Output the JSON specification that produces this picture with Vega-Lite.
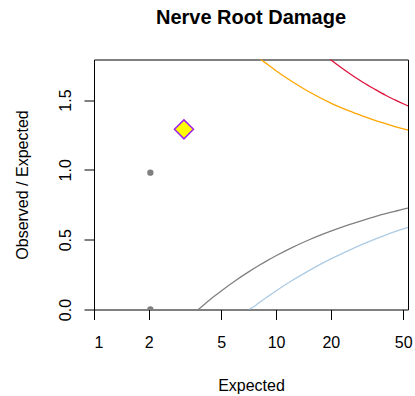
{
  "$schema": "https://vega.github.io/schema/vega-lite/v6.json",
  "width": 314,
  "height": 250,
  "autosize": {"type": "none"},
  "padding": {"left": 94, "top": 59.5, "right": 7, "bottom": 86.5},
  "title": {"text": "Nerve Root Damage", "fontSize": 20, "fontWeight": "bold", "font": "Liberation Sans", "color": "black", "anchor": "middle", "baseline": "alphabetic", "offset": 15.5},
  "config": {
    "view": {"stroke": "black", "strokeWidth": 1},
    "font": "Liberation Sans",
    "axis": {"grid": false, "domain": false, "tickColor": "black", "tickSize": 10, "tickWidth": 1, "labelFont": "Liberation Sans", "labelFontSize": 16, "labelColor": "black", "titleFont": "Liberation Sans", "titleFontSize": 16, "titleFontWeight": "normal", "titleColor": "black"}
  },
  "datasets": {
    "limits": [
      {"E": 7.8, "ratio": 1.82, "limit": "upper95"},
      {"E": 8, "ratio": 1.806, "limit": "upper95"},
      {"E": 9, "ratio": 1.754, "limit": "upper95"},
      {"E": 10, "ratio": 1.71, "limit": "upper95"},
      {"E": 12, "ratio": 1.64, "limit": "upper95"},
      {"E": 15, "ratio": 1.563, "limit": "upper95"},
      {"E": 20, "ratio": 1.478, "limit": "upper95"},
      {"E": 25, "ratio": 1.424, "limit": "upper95"},
      {"E": 30, "ratio": 1.385, "limit": "upper95"},
      {"E": 35, "ratio": 1.354, "limit": "upper95"},
      {"E": 40, "ratio": 1.33, "limit": "upper95"},
      {"E": 45, "ratio": 1.31, "limit": "upper95"},
      {"E": 50, "ratio": 1.293, "limit": "upper95"},
      {"E": 53.5, "ratio": 1.284, "limit": "upper95"},
      {"E": 18.5, "ratio": 1.83, "limit": "upper998"},
      {"E": 20, "ratio": 1.789, "limit": "upper998"},
      {"E": 22, "ratio": 1.747, "limit": "upper998"},
      {"E": 25, "ratio": 1.695, "limit": "upper998"},
      {"E": 30, "ratio": 1.627, "limit": "upper998"},
      {"E": 35, "ratio": 1.576, "limit": "upper998"},
      {"E": 40, "ratio": 1.534, "limit": "upper998"},
      {"E": 45, "ratio": 1.501, "limit": "upper998"},
      {"E": 50, "ratio": 1.473, "limit": "upper998"},
      {"E": 53.5, "ratio": 1.456, "limit": "upper998"},
      {"E": 3.74, "ratio": 0, "limit": "lower95"},
      {"E": 4, "ratio": 0.032, "limit": "lower95"},
      {"E": 4.5, "ratio": 0.087, "limit": "lower95"},
      {"E": 5, "ratio": 0.133, "limit": "lower95"},
      {"E": 6, "ratio": 0.208, "limit": "lower95"},
      {"E": 7, "ratio": 0.266, "limit": "lower95"},
      {"E": 8, "ratio": 0.313, "limit": "lower95"},
      {"E": 9, "ratio": 0.352, "limit": "lower95"},
      {"E": 10, "ratio": 0.385, "limit": "lower95"},
      {"E": 12, "ratio": 0.438, "limit": "lower95"},
      {"E": 15, "ratio": 0.496, "limit": "lower95"},
      {"E": 20, "ratio": 0.561, "limit": "lower95"},
      {"E": 25, "ratio": 0.606, "limit": "lower95"},
      {"E": 30, "ratio": 0.639, "limit": "lower95"},
      {"E": 35, "ratio": 0.665, "limit": "lower95"},
      {"E": 40, "ratio": 0.686, "limit": "lower95"},
      {"E": 45, "ratio": 0.703, "limit": "lower95"},
      {"E": 50, "ratio": 0.718, "limit": "lower95"},
      {"E": 53.5, "ratio": 0.727, "limit": "lower95"},
      {"E": 7.1, "ratio": 0, "limit": "lower998"},
      {"E": 7.5, "ratio": 0.018, "limit": "lower998"},
      {"E": 8, "ratio": 0.045, "limit": "lower998"},
      {"E": 9, "ratio": 0.092, "limit": "lower998"},
      {"E": 10, "ratio": 0.133, "limit": "lower998"},
      {"E": 12, "ratio": 0.2, "limit": "lower998"},
      {"E": 15, "ratio": 0.275, "limit": "lower998"},
      {"E": 20, "ratio": 0.362, "limit": "lower998"},
      {"E": 25, "ratio": 0.422, "limit": "lower998"},
      {"E": 30, "ratio": 0.468, "limit": "lower998"},
      {"E": 35, "ratio": 0.504, "limit": "lower998"},
      {"E": 40, "ratio": 0.533, "limit": "lower998"},
      {"E": 45, "ratio": 0.557, "limit": "lower998"},
      {"E": 50, "ratio": 0.577, "limit": "lower998"},
      {"E": 53.5, "ratio": 0.589, "limit": "lower998"}
    ],
    "others": [
      {"E": 2.04, "ratio": 0.98},
      {"E": 2.04, "ratio": 0}
    ],
    "target": [
      {"E": 3.12, "ratio": 1.29}
    ]
  },
  "layer": [
    {
      "mark": {"type": "rule", "color": "#BEBEBE", "strokeWidth": 1},
      "encoding": {"y": {"datum": 1, "type": "quantitative", "scale": {"domain": [0, 1.79]}}}
    },
    {
      "data": {"name": "limits"},
      "mark": {"type": "line", "clip": true, "strokeWidth": 1.3, "interpolate": "monotone"},
      "encoding": {
        "x": {"field": "E", "type": "quantitative", "scale": {"type": "log", "domain": [1, 53.1], "nice": false},
              "axis": {"values": [1, 2, 5, 10, 20, 50], "format": "d", "labelPadding": 15, "title": "Expected", "titleBaseline": "alphabetic", "titleY": 80.5}},
        "y": {"field": "ratio", "type": "quantitative", "scale": {"domain": [0, 1.79], "nice": false, "zero": false},
              "axis": {"values": [0, 0.5, 1, 1.5], "format": ".1f", "labelAngle": -90, "labelAlign": "center", "labelBaseline": "alphabetic", "labelPadding": 14, "title": "Observed / Expected", "titleBaseline": "alphabetic", "titleX": -66.7}},
        "color": {"field": "limit", "type": "nominal", "legend": null,
                  "scale": {"domain": ["upper95", "upper998", "lower95", "lower998"], "range": ["#FFA500", "#DC143C", "#808080", "#ADCBE3"]}}
      }
    },
    {
      "data": {"name": "others"},
      "mark": {"type": "point", "shape": "circle", "filled": true, "clip": true, "size": 40, "color": "#7F7F7F", "opacity": 1},
      "encoding": {
        "x": {"field": "E", "type": "quantitative"},
        "y": {"field": "ratio", "type": "quantitative"}
      }
    },
    {
      "data": {"name": "target"},
      "mark": {"type": "point", "shape": "diamond", "filled": true, "size": 360, "fill": "#FFFF00", "stroke": "#A020F0", "strokeWidth": 1.5, "opacity": 1},
      "encoding": {
        "x": {"field": "E", "type": "quantitative"},
        "y": {"field": "ratio", "type": "quantitative"}
      }
    }
  ]
}
